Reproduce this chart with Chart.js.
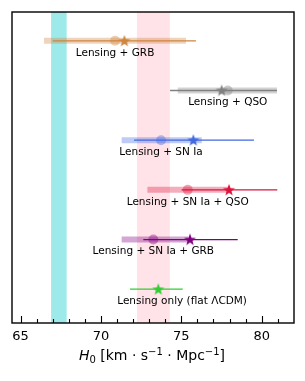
<!DOCTYPE html>
<html>
<head>
<meta charset="utf-8">
<script src="https://cdn.jsdelivr.net/npm/chart.js@4"></script>
<style>
html,body{margin:0;padding:0;background:#fff;}
canvas{display:block;}
</style>
</head>
<body>
<canvas id="c" width="305" height="381"></canvas>
<script>
// ---- data ----
const categories = ['Lensing + GRB', 'Lensing + QSO', 'Lensing + SN Ia', 'Lensing + SN Ia + QSO', 'Lensing + SN Ia + GRB', 'Lensing only (flat \u039BCDM)'];
const rowY = [6, 5, 4, 3, 2, 1];
const circleValue = [70.88, 77.89, 73.74, 75.40, 73.26, null];
const circleLow   = [66.46, 74.78, 71.29, 72.89, 71.29, null];
const circleHigh  = [75.29, 80.95, 76.27, 78.03, 75.43, null];
const starValue   = [71.46, 77.51, 75.75, 77.97, 75.54, 73.57];
const starLow     = [67.00, 74.30, 72.06, 75.02, 72.64, 71.81];
const starHigh    = [75.91, 80.95, 79.52, 80.97, 78.51, 75.09];
const labelAnchor = [70.88, 77.89, 73.74, 75.40, 73.26, 75.05];
const planckBand = [66.90, 67.87];
const shoesBand  = [72.24, 74.29];
const xTicks = [65, 70, 75, 80];
const xMinorTicks = [66, 67, 68, 69, 71, 72, 73, 74, 76, 77, 78, 79, 81];

// ---- styles ----
const rgb = [[205,133,63],[128,128,128],[65,105,225],[220,20,60],[128,0,128],[50,205,50]];
const col = (c, a) => `rgba(${c[0]},${c[1]},${c[2]},${a})`;

function makeStar(color) {
  const cv = document.createElement('canvas');
  cv.width = 14; cv.height = 14;
  const g = cv.getContext('2d');
  g.fillStyle = color;
  g.beginPath();
  for (let i = 0; i < 10; i++) {
    const r = i % 2 === 0 ? 6.3 : 2.6;
    const a = -Math.PI / 2 + i * Math.PI / 5;
    const px = 7 + r * Math.cos(a), py = 7.4 + r * Math.sin(a);
    if (i === 0) g.moveTo(px, py); else g.lineTo(px, py);
  }
  g.closePath();
  g.fill();
  return cv;
}

const datasets = [];
categories.forEach((name, i) => {
  const c = rgb[i];
  datasets.push({
    label: name + ' star', order: 1,
    data: [{x: starValue[i], y: rowY[i]}],
    pointStyle: makeStar(col(c, 1)), pointRadius: 7, showLine: false
  });
  datasets.push({
    label: name + ' star err', order: 2,
    data: [{x: starLow[i], y: rowY[i]}, {x: starHigh[i], y: rowY[i]}],
    showLine: true, borderColor: col(c, 1), borderWidth: 1.3, pointRadius: 0, borderCapStyle: 'butt'
  });
  if (circleValue[i] !== null) {
    datasets.push({
      label: name + ' circle', order: 3,
      data: [{x: circleValue[i], y: rowY[i]}],
      pointStyle: 'circle', pointRadius: 5, backgroundColor: col(c, 0.4), borderWidth: 0, showLine: false
    });
    datasets.push({
      label: name + ' circle err', order: 4,
      data: [{x: circleLow[i], y: rowY[i]}, {x: circleHigh[i], y: rowY[i]}],
      showLine: true, borderColor: col(c, 0.35), borderWidth: 6, pointRadius: 0, borderCapStyle: 'butt'
    });
  }
});

const decor = {
  id: 'decor',
  beforeDatasetsDraw(chart) {
    const {ctx, chartArea: a, scales: {x}} = chart;
    ctx.save();
    ctx.fillStyle = 'rgba(0,200,200,0.38)';
    ctx.fillRect(x.getPixelForValue(planckBand[0]), a.top, x.getPixelForValue(planckBand[1]) - x.getPixelForValue(planckBand[0]), a.bottom - a.top);
    ctx.fillStyle = 'rgba(255,192,203,0.45)';
    ctx.fillRect(x.getPixelForValue(shoesBand[0]), a.top, x.getPixelForValue(shoesBand[1]) - x.getPixelForValue(shoesBand[0]), a.bottom - a.top);
    ctx.restore();
  },
  afterDatasetsDraw(chart) {
    const {ctx, chartArea: a, scales: {x, y}} = chart;
    ctx.save();
    // labels
    ctx.fillStyle = '#000';
    ctx.font = '10.5px "DejaVu Sans"';
    ctx.textAlign = 'center';
    ctx.textBaseline = 'middle';
    categories.forEach((name, i) => {
      ctx.fillText(name, x.getPixelForValue(labelAnchor[i]), y.getPixelForValue(rowY[i]) + 12);
    });
    // ticks (inward)
    ctx.strokeStyle = '#000';
    ctx.lineWidth = 1.1;
    ctx.beginPath();
    xTicks.forEach(v => { const px = Math.round(x.getPixelForValue(v)) + 0.5; ctx.moveTo(px, a.bottom); ctx.lineTo(px, a.bottom - 7); });
    xMinorTicks.forEach(v => { const px = Math.round(x.getPixelForValue(v)) + 0.5; ctx.moveTo(px, a.bottom); ctx.lineTo(px, a.bottom - 4); });
    ctx.stroke();
    // frame
    ctx.lineWidth = 1.4;
    ctx.strokeRect(a.left, a.top, a.right - a.left, a.bottom - a.top);
    // axis title
    const cx = (a.left + a.right) / 2 - 1, ty = 355;
    const parts = [
      {t: 'H', f: 'italic 14px "DejaVu Sans"', dy: 0},
      {t: '0', f: '10px "DejaVu Sans"', dy: 3},
      {t: ' [km \u00B7 s', f: '14px "DejaVu Sans"', dy: 0},
      {t: '\u22121', f: '10px "DejaVu Sans"', dy: -5},
      {t: ' \u00B7 Mpc', f: '14px "DejaVu Sans"', dy: 0},
      {t: '\u22121', f: '10px "DejaVu Sans"', dy: -5},
      {t: ']', f: '14px "DejaVu Sans"', dy: 0}
    ];
    let w = 0;
    parts.forEach(p => { ctx.font = p.f; p.w = ctx.measureText(p.t).width; w += p.w; });
    let px = cx - w / 2;
    ctx.fillStyle = '#000';
    ctx.textAlign = 'left';
    ctx.textBaseline = 'alphabetic';
    parts.forEach(p => { ctx.font = p.f; ctx.fillText(p.t, px, ty + 5 + p.dy); px += p.w; });
    ctx.restore();
  }
};

new Chart(document.getElementById('c'), {
  type: 'scatter',
  data: {datasets},
  options: {
    responsive: false,
    animation: false,
    events: [],
    layout: {padding: {left: 12, right: 11, top: 12, bottom: 0}},
    plugins: {legend: {display: false}, tooltip: {enabled: false}},
    scales: {
      x: {
        type: 'linear', min: 64.47, max: 82.01,
        grid: {display: false, drawTicks: false},
        border: {display: false},
        ticks: {font: {family: 'DejaVu Sans', size: 13}, color: '#000', padding: 6, maxRotation: 0},
        afterBuildTicks: s => { s.ticks = xTicks.map(v => ({value: v})); },
        afterFit: s => { s.height = 58; }
      },
      y: {type: 'linear', min: 0.32, max: 6.58, display: false}
    }
  },
  plugins: [decor]
});
</script>
</body>
</html>
